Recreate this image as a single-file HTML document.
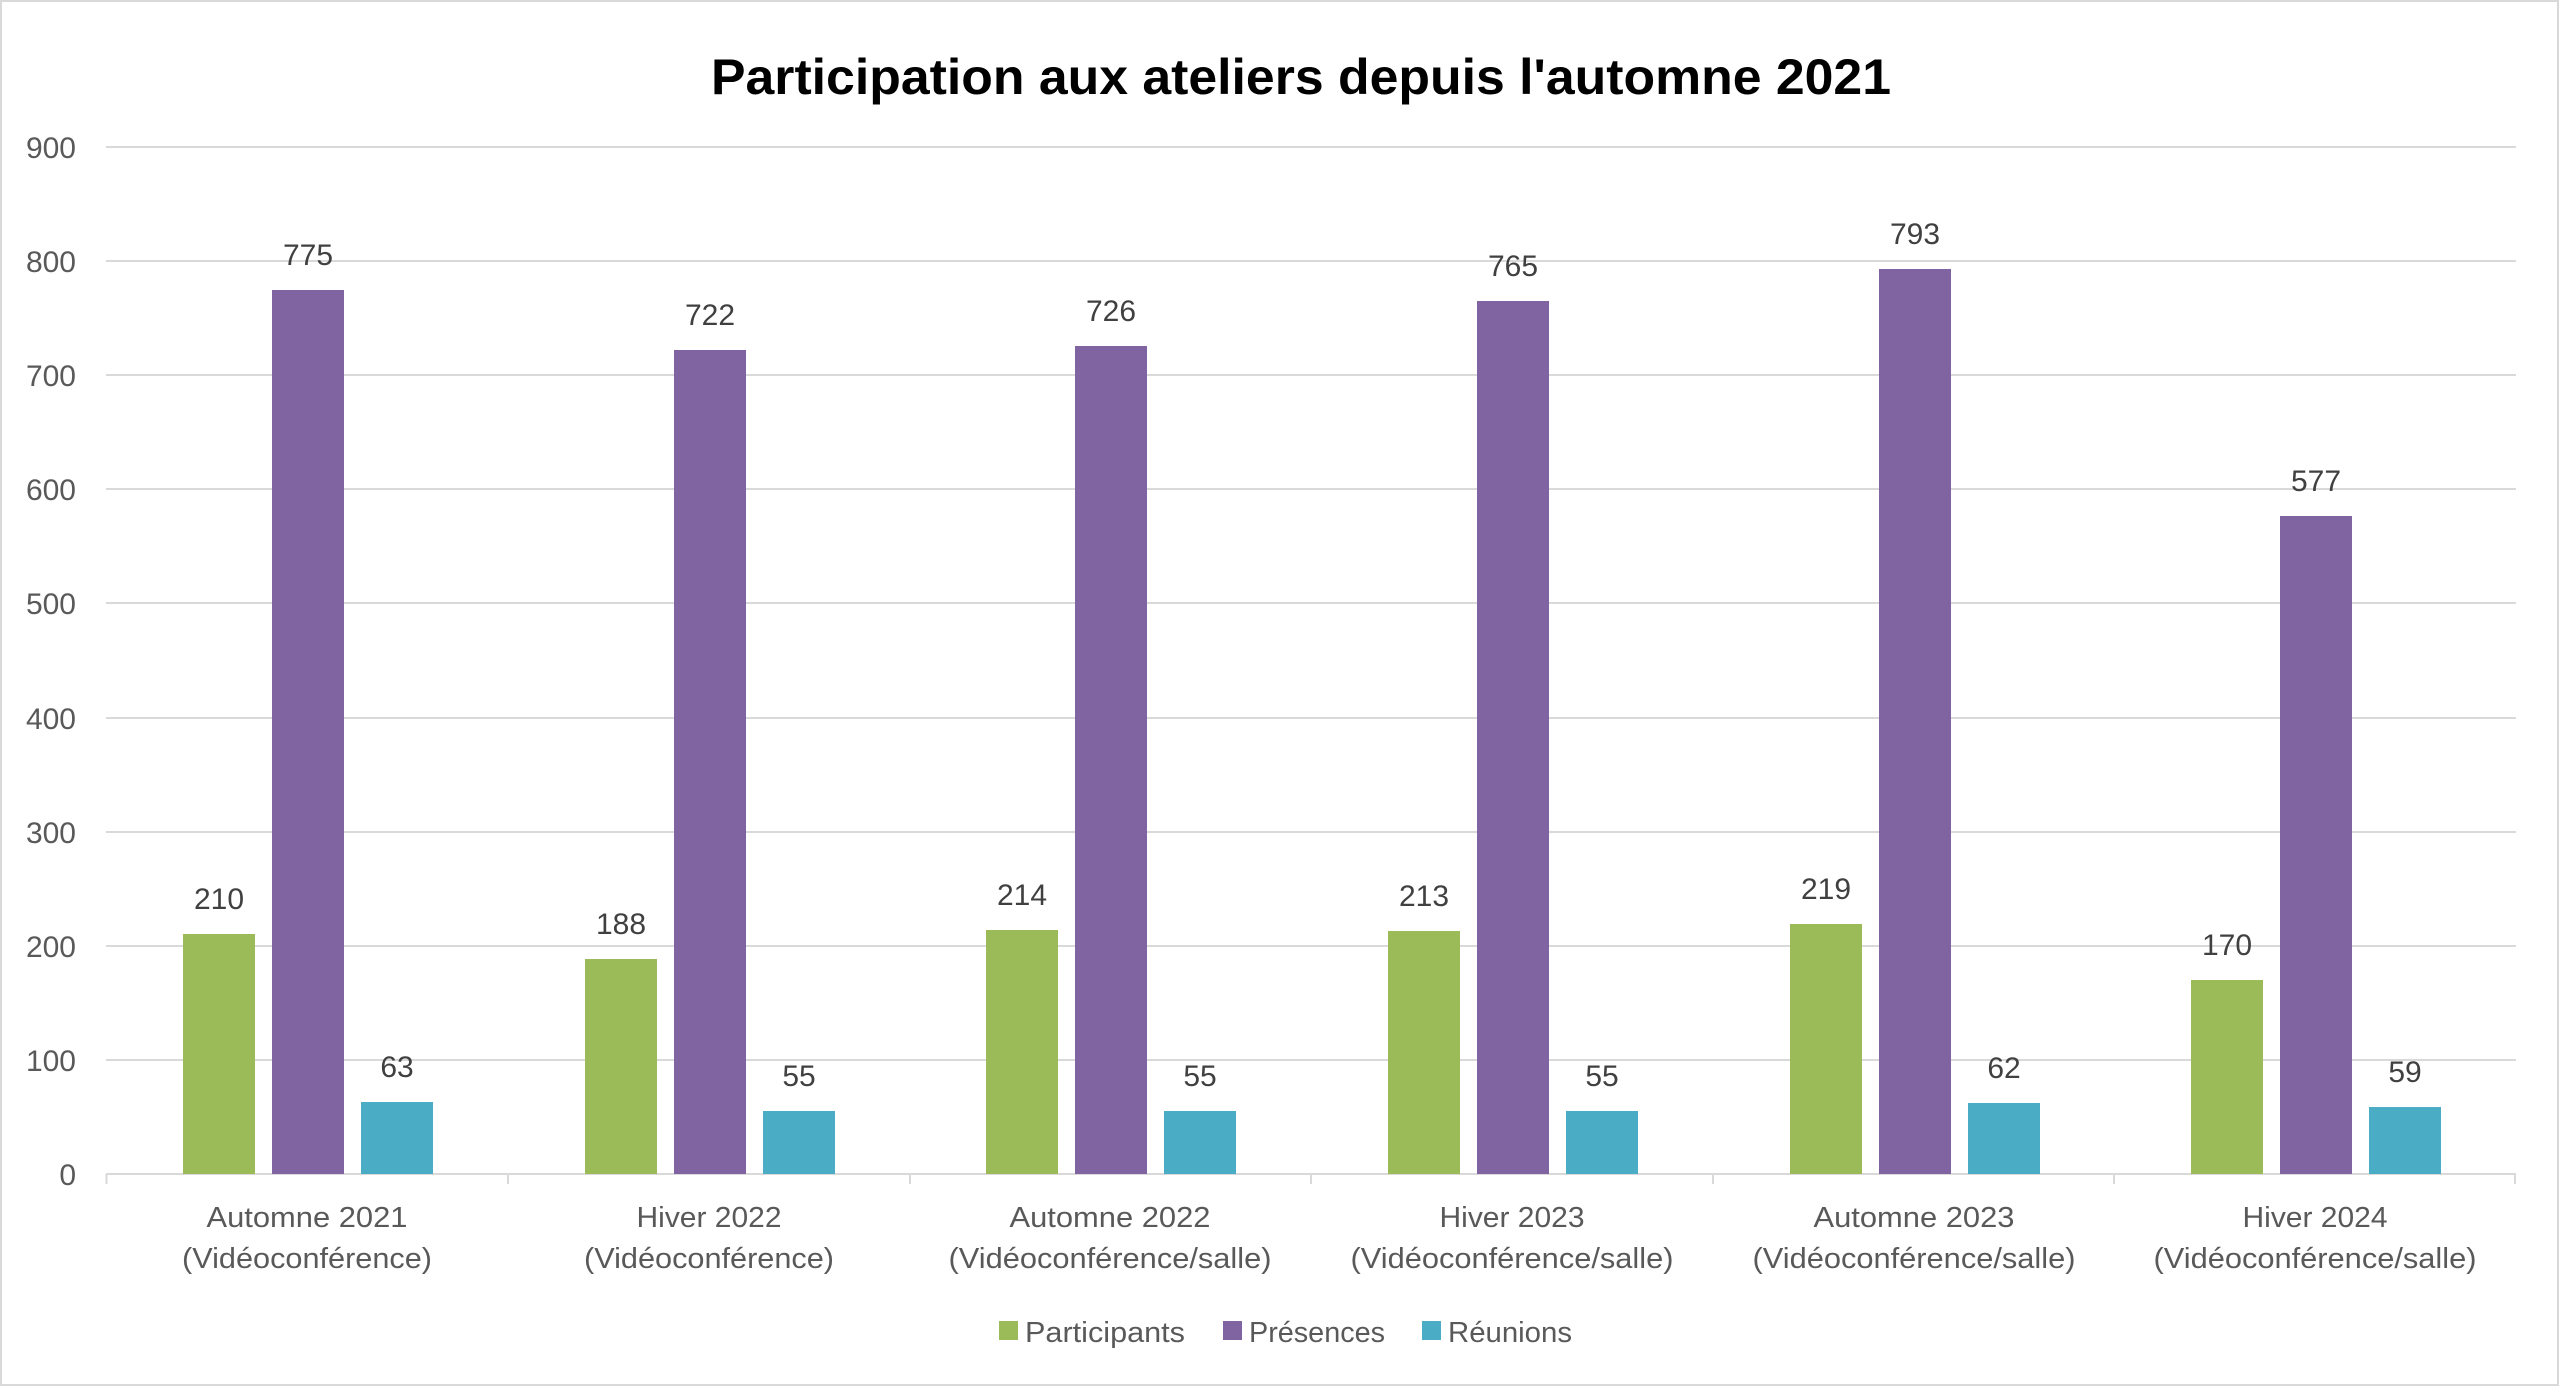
<!DOCTYPE html>
<html><head><meta charset="utf-8"><style>html,body{margin:0;padding:0;background:#fff}svg{display:block}</style></head>
<body>
<svg width="2560" height="1387" viewBox="0 0 2560 1387" xmlns="http://www.w3.org/2000/svg" font-family="'Liberation Sans', sans-serif">
<rect x="1" y="1" width="2557" height="1384" fill="#fff" stroke="#d9d9d9" stroke-width="2"/>
<text x="1301" y="94" text-anchor="middle" font-size="50" font-weight="bold" fill="#000" textLength="1180" lengthAdjust="spacingAndGlyphs">Participation aux ateliers depuis l'automne 2021</text>
<g stroke="#d9d9d9" stroke-width="2">
<line x1="106" x2="2516" y1="147" y2="147"/>
<line x1="106" x2="2516" y1="261" y2="261"/>
<line x1="106" x2="2516" y1="375" y2="375"/>
<line x1="106" x2="2516" y1="489" y2="489"/>
<line x1="106" x2="2516" y1="603" y2="603"/>
<line x1="106" x2="2516" y1="718" y2="718"/>
<line x1="106" x2="2516" y1="832" y2="832"/>
<line x1="106" x2="2516" y1="946" y2="946"/>
<line x1="106" x2="2516" y1="1060" y2="1060"/>
<line x1="106" x2="2516" y1="1174" y2="1174"/>
<line x1="106.5" x2="106.5" y1="1174" y2="1184"/>
<line x1="508" x2="508" y1="1174" y2="1184"/>
<line x1="910" x2="910" y1="1174" y2="1184"/>
<line x1="1311" x2="1311" y1="1174" y2="1184"/>
<line x1="1713" x2="1713" y1="1174" y2="1184"/>
<line x1="2114" x2="2114" y1="1174" y2="1184"/>
<line x1="2515" x2="2515" y1="1174" y2="1184"/>
</g>
<g font-size="30" fill="#595959" text-anchor="end">
<text x="76" y="158">900</text><text x="76" y="272">800</text><text x="76" y="386">700</text><text x="76" y="500">600</text><text x="76" y="614">500</text><text x="76" y="729">400</text><text x="76" y="843">300</text><text x="76" y="957">200</text><text x="76" y="1071">100</text><text x="76" y="1185">0</text>
</g>
<g>
<rect x="183" y="934" width="72" height="240" fill="#9bbb59"/>
<rect x="272" y="290" width="72" height="884" fill="#8064a2"/>
<rect x="361" y="1102" width="72" height="72" fill="#4bacc6"/>
<rect x="585" y="959" width="72" height="215" fill="#9bbb59"/>
<rect x="674" y="350" width="72" height="824" fill="#8064a2"/>
<rect x="763" y="1111" width="72" height="63" fill="#4bacc6"/>
<rect x="986" y="930" width="72" height="244" fill="#9bbb59"/>
<rect x="1075" y="346" width="72" height="828" fill="#8064a2"/>
<rect x="1164" y="1111" width="72" height="63" fill="#4bacc6"/>
<rect x="1388" y="931" width="72" height="243" fill="#9bbb59"/>
<rect x="1477" y="301" width="72" height="873" fill="#8064a2"/>
<rect x="1566" y="1111" width="72" height="63" fill="#4bacc6"/>
<rect x="1790" y="924" width="72" height="250" fill="#9bbb59"/>
<rect x="1879" y="269" width="72" height="905" fill="#8064a2"/>
<rect x="1968" y="1103" width="72" height="71" fill="#4bacc6"/>
<rect x="2191" y="980" width="72" height="194" fill="#9bbb59"/>
<rect x="2280" y="516" width="72" height="658" fill="#8064a2"/>
<rect x="2369" y="1107" width="72" height="67" fill="#4bacc6"/>
</g>
<g font-size="30" fill="#404040" text-anchor="middle">
<text x="219" y="909">210</text><text x="308" y="265">775</text><text x="397" y="1077">63</text>
<text x="621" y="934">188</text><text x="710" y="325">722</text><text x="799" y="1086">55</text>
<text x="1022" y="905">214</text><text x="1111" y="321">726</text><text x="1200" y="1086">55</text>
<text x="1424" y="906">213</text><text x="1513" y="276">765</text><text x="1602" y="1086">55</text>
<text x="1826" y="899">219</text><text x="1915" y="244">793</text><text x="2004" y="1078">62</text>
<text x="2227" y="955">170</text><text x="2316" y="491">577</text><text x="2405" y="1082">59</text>
</g>
<g font-size="29" fill="#595959" text-anchor="middle">
<text x="307" y="1227" textLength="201" lengthAdjust="spacingAndGlyphs">Automne 2021</text>
<text x="307" y="1268" textLength="250" lengthAdjust="spacingAndGlyphs">(Vidéoconférence)</text>
<text x="709" y="1227" textLength="145" lengthAdjust="spacingAndGlyphs">Hiver 2022</text>
<text x="709" y="1268" textLength="250" lengthAdjust="spacingAndGlyphs">(Vidéoconférence)</text>
<text x="1110" y="1227" textLength="201" lengthAdjust="spacingAndGlyphs">Automne 2022</text>
<text x="1110" y="1268" textLength="323" lengthAdjust="spacingAndGlyphs">(Vidéoconférence/salle)</text>
<text x="1512" y="1227" textLength="145" lengthAdjust="spacingAndGlyphs">Hiver 2023</text>
<text x="1512" y="1268" textLength="323" lengthAdjust="spacingAndGlyphs">(Vidéoconférence/salle)</text>
<text x="1914" y="1227" textLength="201" lengthAdjust="spacingAndGlyphs">Automne 2023</text>
<text x="1914" y="1268" textLength="323" lengthAdjust="spacingAndGlyphs">(Vidéoconférence/salle)</text>
<text x="2315" y="1227" textLength="145" lengthAdjust="spacingAndGlyphs">Hiver 2024</text>
<text x="2315" y="1268" textLength="323" lengthAdjust="spacingAndGlyphs">(Vidéoconférence/salle)</text>
</g>
<g font-size="29" fill="#595959">
<rect x="999" y="1321" width="19" height="19" fill="#9bbb59"/>
<text x="1025" y="1342" textLength="160" lengthAdjust="spacingAndGlyphs">Participants</text>
<rect x="1223" y="1321" width="19" height="19" fill="#8064a2"/>
<text x="1249" y="1342" textLength="136" lengthAdjust="spacingAndGlyphs">Présences</text>
<rect x="1422" y="1321" width="19" height="19" fill="#4bacc6"/>
<text x="1448" y="1342" textLength="124" lengthAdjust="spacingAndGlyphs">Réunions</text>
</g>
</svg>
</body></html>
